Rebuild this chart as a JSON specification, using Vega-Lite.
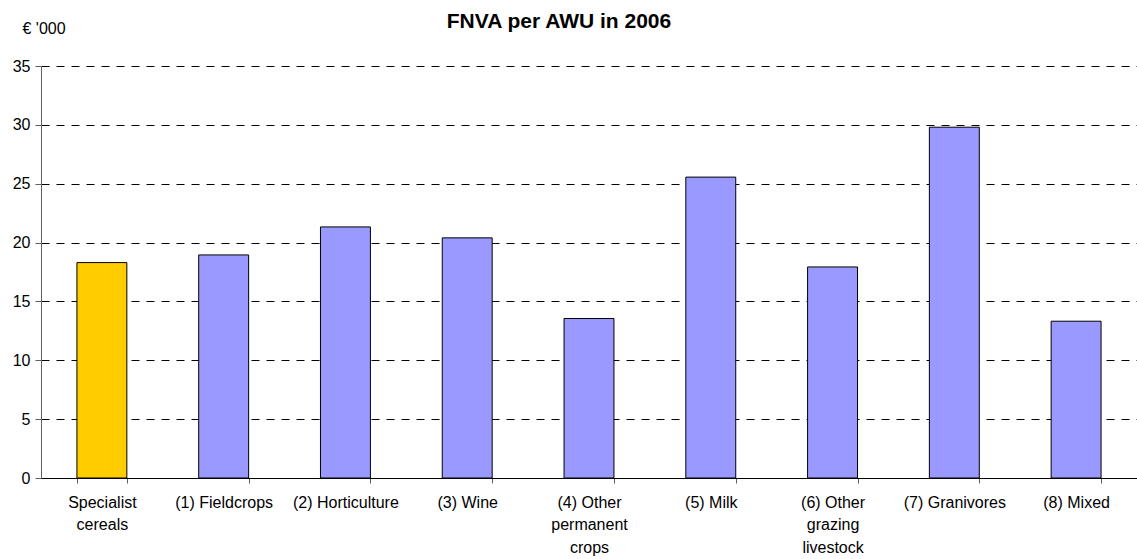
{
  "$schema": "https://vega.github.io/schema/vega-lite/v6.json",
  "autosize": {"type": "none"},
  "padding": {"left": 41, "top": 66, "right": 0, "bottom": 81},
  "width": 1096,
  "height": 412,
  "background": "white",
  "config": {
    "view": {"stroke": null},
    "font": "Liberation Sans"
  },
  "title": {
    "text": "FNVA per AWU in 2006",
    "font": "Liberation Sans",
    "fontSize": 21,
    "fontWeight": "bold",
    "color": "#000000",
    "anchor": "middle",
    "frame": "group",
    "baseline": "alphabetic",
    "dx": -30,
    "offset": -29
  },
  "data": {
    "values": [
      {"category": "Specialist cereals", "value": 18.3},
      {"category": "(1) Fieldcrops", "value": 18.95},
      {"category": "(2) Horticulture", "value": 21.33},
      {"category": "(3) Wine", "value": 20.4},
      {"category": "(4) Other permanent crops", "value": 13.55},
      {"category": "(5) Milk", "value": 25.56},
      {"category": "(6) Other grazing livestock", "value": 17.93},
      {"category": "(7) Granivores", "value": 29.8},
      {"category": "(8) Mixed", "value": 13.32}
    ]
  },
  "mark": {"type": "bar", "stroke": "#000000", "strokeWidth": 1},
  "encoding": {
    "x": {
      "field": "category",
      "type": "nominal",
      "sort": null,
      "scale": {"paddingInner": 0.59, "paddingOuter": 0.295},
      "axis": {
        "title": null,
        "labelAngle": 0,
        "labelFontSize": 16,
        "labelColor": "#000000",
        "labelLimit": 0,
        "labelLineHeight": 22.5,
        "labelBaseline": "top",
        "labelPadding": 11,
        "tickBand": "extent",
        "tickSize": 5,
        "tickColor": "#606060",
        "domainColor": "#000000",
        "domainWidth": 1,
        "labelExpr": "datum.label == 'Specialist cereals' ? ['Specialist', 'cereals'] : datum.label == '(4) Other permanent crops' ? ['(4) Other', 'permanent', 'crops'] : datum.label == '(6) Other grazing livestock' ? ['(6) Other', 'grazing', 'livestock'] : datum.label"
      }
    },
    "y": {
      "field": "value",
      "type": "quantitative",
      "scale": {"domain": [0, 35], "nice": false},
      "axis": {
        "values": [0, 5, 10, 15, 20, 25, 30, 35],
        "title": "€ '000",
        "titleAngle": 0,
        "titleAlign": "left",
        "titleBaseline": "alphabetic",
        "titleX": -19,
        "titleY": -33,
        "titleFontSize": 16,
        "titleFontWeight": "normal",
        "titleColor": "#000000",
        "labelFontSize": 16,
        "labelColor": "#000000",
        "labelPadding": 5,
        "tickSize": 6,
        "tickColor": "#606060",
        "domainColor": "#606060",
        "grid": true,
        "gridColor": "#000000",
        "gridDash": [8, 7],
        "gridWidth": 1
      }
    },
    "color": {
      "condition": {"test": "datum.category == 'Specialist cereals'", "value": "#FFCC00"},
      "value": "#9999FF"
    }
  }
}
